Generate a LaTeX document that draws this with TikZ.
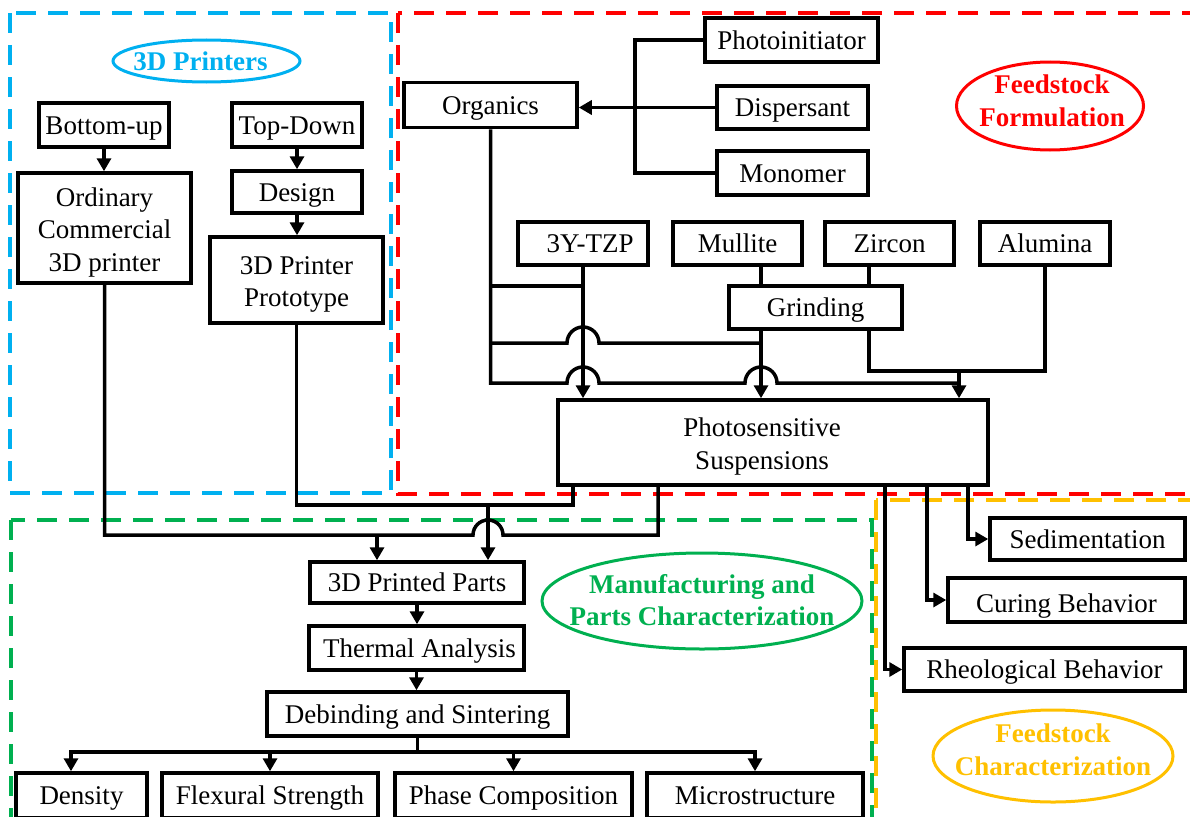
\documentclass[tikz,border=0pt]{standalone}
\usepackage{fontspec}
\setmainfont{Liberation Serif}
\usetikzlibrary{arrows.meta,calc}
\definecolor{cblue}{HTML}{00B0F0}
\definecolor{cred}{HTML}{FF0000}
\definecolor{cgreen}{HTML}{00B050}
\definecolor{corange}{HTML}{FFC000}
\newcommand{\mlines}[1]{\raisebox{-4pt}[\height][\depth]{\begin{tabular}{@{}c@{}}#1\end{tabular}}}
\begin{document}
\begin{tikzpicture}[x=1pt,y=-1pt,line join=miter,
  box/.style={draw,line width=3.5pt,fill=white,inner sep=0pt,align=center,font=\fontsize{27}{32.5}\selectfont},
  one/.style={text height=25pt,text depth=7pt},
  lab/.style={inner sep=0pt,align=center,font=\fontsize{27}{32.5}\selectfont\bfseries},
  conn/.style={line width=3.5pt},
  arr/.style={conn,-{Triangle[length=13pt,width=14pt]}},
  reg/.style={line width=3.5pt,dash pattern=on 20pt off 12pt},
  oval/.style={line width=3pt}]
\useasboundingbox (0,0) rectangle (1190,816);
% regions
\draw[reg,cblue] (10,13) rectangle (391,493);
\draw[reg,cred] (398,13) rectangle (1215,494);
\draw[reg,cgreen] (11,520) rectangle (872,850);
\draw[reg,corange] (876,500) rectangle (1215,850);
% labels
\node[lab,text=cblue] (l3d) at (200.5,61) {3D Printers};
\draw[oval,cblue] ($(l3d)+(6,0)$) ellipse [x radius=93.5pt,y radius=21pt];
\node[lab,text=cred] (lff) at (1052,101) {Feedstock\\Formulation};
\draw[oval,cred] ($(lff)+(-2,5)$) ellipse [x radius=93.5pt,y radius=44pt];
\node[lab,text=cgreen] (lmp) at (702,600) {Manufacturing and\\Parts Characterization};
\draw[oval,cgreen] ($(lmp)+(0,1)$) ellipse [x radius=160pt,y radius=48pt];
\node[lab,text=corange] (lfc) at (1053,750) {Feedstock\\Characterization};
\draw[oval,corange] ($(lfc)+(0,6)$) ellipse [x radius=120pt,y radius=46pt];
% left boxes
\node[box,one,minimum width=130pt,minimum height=44pt] (bu) at (104,125) {Bottom-up};
\node[box,minimum width=173pt,minimum height=110pt] (ocp) at (104.5,228) {\mlines{Ordinary\\Commercial\\3D printer}};
\node[box,one,minimum width=130pt,minimum height=44pt] (td) at (297,125) {Top-Down};
\node[box,one,minimum width=130pt,minimum height=42pt] (des) at (297,192) {Design};
\node[box,minimum width=173pt,minimum height=86pt] (proto) at (296.5,280) {\mlines{3D Printer\\Prototype}};
% formulation boxes
\node[box,one,minimum width=173pt,minimum height=45pt] (org) at (490.5,105) {Organics};
\node[box,one,minimum width=173pt,minimum height=44pt] (pi) at (791.5,40) {Photoinitiator};
\node[box,one,minimum width=151pt,minimum height=43pt] (disp) at (792.5,107.5) {Dispersant};
\node[box,one,minimum width=151pt,minimum height=44pt] (mono) at (792.5,173) {Monomer};
\node[box,one,minimum width=130pt,minimum height=43pt] (tzp) at (583,243.5) {\hspace*{14pt}3Y-TZP};
\node[box,one,minimum width=129pt,minimum height=43pt] (mul) at (737.5,243.5) {Mullite};
\node[box,one,minimum width=129pt,minimum height=43pt] (zir) at (889.5,243.5) {Zircon};
\node[box,one,minimum width=130pt,minimum height=43pt] (alu) at (1045,243.5) {Alumina};
\node[box,one,minimum width=173pt,minimum height=43pt] (grd) at (815.5,307.5) {Grinding};
\node[box,minimum width=430pt,minimum height=85pt] (ps) at (773,442.5) {\mlines{Photosensitive\\Suspensions}\hspace*{22pt}};
% manufacturing boxes
\node[box,one,minimum width=214pt,minimum height=41pt] (pp) at (417,582.5) {3D Printed Parts};
\node[box,one,minimum width=215pt,minimum height=44pt] (ta) at (416.5,648) {\hspace*{6pt}Thermal Analysis};
\node[box,one,minimum width=301pt,minimum height=44pt] (ds) at (417.5,714) {Debinding and Sintering};
\node[box,one,minimum width=131pt,minimum height=45pt] (den) at (81.5,795.5) {Density};
\node[box,one,minimum width=216pt,minimum height=45pt] (fs) at (270,795.5) {Flexural Strength};
\node[box,one,minimum width=237pt,minimum height=45pt] (pc) at (513.5,795.5) {Phase Composition};
\node[box,one,minimum width=216pt,minimum height=45pt] (ms) at (755,795.5) {Microstructure};
% characterization boxes
\node[box,one,minimum width=195pt,minimum height=42pt] (sed) at (1087.5,539) {Sedimentation};
\node[box,one,text height=31pt,minimum width=237pt,minimum height=44pt] (cur) at (1066.5,600) {Curing Behavior};
\node[box,one,minimum width=281pt,minimum height=43pt] (rhe) at (1044.5,669.5) {Rheological Behavior};
% helper coordinates
\coordinate (busb) at (635,0);
\coordinate (xm) at (761,0);
\coordinate (xz) at (869,0);
\coordinate (xa) at (959,0);
\coordinate (xp1) at (573,0);
\coordinate (xp2) at (658,0);
\coordinate (xj1) at (488,0);
\coordinate (xj2) at (377,0);
\coordinate (xs1) at (968,0);
\coordinate (xs2) at (927,0);
\coordinate (xs3) at (885,0);
\coordinate (xd) at (71,0);
\coordinate (y286) at (0,286);
\coordinate (y343) at (0,343);
\coordinate (y371) at (0,371);
\coordinate (y383) at (0,383);
\coordinate (y505) at (0,505);
\coordinate (y535) at (0,535);
\coordinate (y752) at (0,752);
% printers connectors
\draw[arr] (bu.south) -- (bu.south |- ocp.north);
\draw[arr] (td.south) -- (td.south |- des.north);
\draw[arr] (des.south) -- (des.south |- proto.north);
% organics
\draw[arr] (disp.west) -- (disp.west -| org.east);
\draw[conn] (pi.west) -| (busb |- mono.west) -- (mono.west);
\draw[conn] (org.south) -- (org.south |- y383) -- ($(tzp.south |- y383)+(-16,0)$) arc[start angle=180,end angle=0,radius=16pt] -- ($(xm |- y383)+(-16,0)$) arc[start angle=180,end angle=0,radius=16pt] -- (xa |- y383);
\draw[conn] (org.south |- y343) -- ($(tzp.south |- y343)+(-16,0)$) arc[start angle=180,end angle=0,radius=16pt] -- (xm |- y343);
\draw[conn] (org.south |- y286) -- (tzp.south |- y286);
% powders
\draw[arr] (tzp.south) -- (tzp.south |- ps.north);
\draw[conn] (mul.south -| xm) -- (grd.north -| xm);
\draw[conn] (zir.south -| xz) -- (grd.north -| xz);
\draw[arr] (grd.south -| xm) -- (ps.north -| xm);
\draw[conn] (grd.south -| xz) |- (alu.south |- y371) -- (alu.south);
\draw[arr] (xa |- y371) -- (xa |- ps.north);
% suspensions to printing
\draw[conn] (ps.south -| xp1) |- (proto.south |- y505) -- (proto.south);
\draw[arr] (xj1 |- y505) -- (xj1 |- pp.north);
\draw[conn] (ocp.south) -- (ocp.south |- y535) -- ($(xj1 |- y535)+(-15,0)$) arc[start angle=180,end angle=0,radius=15pt] -- (xp2 |- y535) -- (ps.south -| xp2);
\draw[arr] (xj2 |- y535) -- (xj2 |- pp.north);
% characterization
\draw[arr] (ps.south -| xs1) |- (sed.west);
\draw[arr] (ps.south -| xs2) |- (cur.west);
\draw[arr] (ps.south -| xs3) |- (rhe.west);
% manufacturing chain
\draw[arr] (pp.south) -- (pp.south |- ta.north);
\draw[arr] (ta.south) -- (ta.south |- ds.north);
\draw[arr] (ds.south) -- (ds.south |- y752) -| (den.north -| xd);
\draw[arr] (ds.south) -- (ds.south |- y752) -| (fs.north);
\draw[arr] (ds.south) -- (ds.south |- y752) -| (pc.north);
\draw[arr] (ds.south) -- (ds.south |- y752) -| (ms.north);
\end{tikzpicture}
\end{document}
